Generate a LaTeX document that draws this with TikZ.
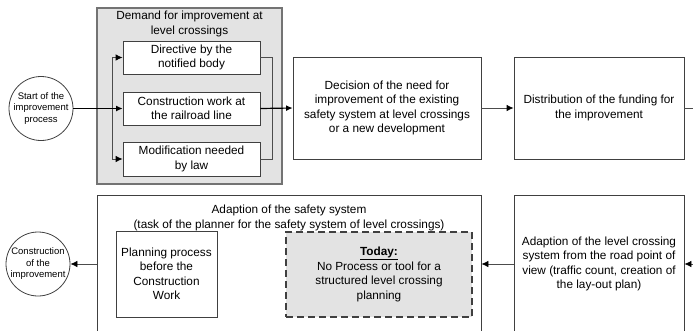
\documentclass[tikz,border=0pt]{standalone}
\usepackage{fontspec}
\setmainfont{Liberation Sans}
\usetikzlibrary{positioning,calc,arrows.meta}

\begin{document}
\begin{tikzpicture}[x=1pt,y=-1pt,
    box/.style={draw=black!75, fill=white, line width=0.8pt, align=center, inner sep=1pt, font=\fontsize{11.8}{14.5}\selectfont},
    group/.style={draw=black!55, fill=black!11, line width=1.4pt},
    todaybox/.style={box, fill=black!11, line width=1.6pt, dash pattern=on 7pt off 4pt},
    terminal/.style={circle, draw=black!75, fill=white, line width=0.8pt, minimum size=64pt, inner sep=0pt, align=center, font=\fontsize{9.5}{11.5}\selectfont},
    title/.style={align=center, inner sep=0pt, font=\fontsize{11.8}{14.5}\selectfont},
    flow/.style={draw=black!70, line width=0.8pt},
    mainflow/.style={draw=black, line width=1.2pt},
    arr/.style={flow, -{Latex[length=7pt,width=6.5pt,color=black]}},
    mainarr/.style={mainflow, -{Latex[length=6.5pt,width=6pt]}}]
    \useasboundingbox (0,0) rectangle (693,330);
    \clip (0,0) rectangle (693,330);
    % Demand for improvement
    \node[group, minimum width=185pt, minimum height=176pt] (demand) at (189.5,96) {};
    \node[title] (demandtitle) at (189.5,24) {Demand for improvement at\\level crossings};
    \node[box, minimum width=137pt, minimum height=33pt] (directive) at (191.5,57.5) {Directive by the\\notified body};
    \node[box, minimum width=137pt, minimum height=33pt] (railwork) at (191.5,108.5) {Construction work at\\the railroad line};
    \node[box, minimum width=137pt, minimum height=34pt] (lawchange) at (191.5,159) {Modification needed\\by law};
    % Start
    \node[terminal] (start) at (41,108.5) {Start of the\\improvement\\process};
    \coordinate (fork) at (112,108.5);
    \coordinate (join) at (272,108.5);
    \draw[arr] (fork) |- (directive.west);
    \draw[arr] (fork) |- (lawchange.west);
    \draw[flow] (directive.east) -| (join);
    \draw[flow] (lawchange.east) -| (join);
    \draw[mainflow] (start) -- (fork);
    \draw[mainarr] (fork) -- (railwork.west);
    % Top row
    \node[box, minimum width=188pt, minimum height=102pt] (decision) at (387,108) {Decision of the need for\\improvement of the existing\\safety system at level crossings\\or a new development};
    \node[box, minimum width=170pt, minimum height=102pt] (funding) at (599,108) {Distribution of the funding for\\the improvement};
    \draw[mainarr] (railwork.east) -- (decision.west);
    \draw[arr] (decision) -- (funding);
    \coordinate (outtop) at (700,108);
    \draw[flow] (funding) -- (outtop);
    % Bottom row
    \coordinate (inbottom) at (700,264);
    \node[box, minimum width=170pt, minimum height=138pt] (roadview) at (599,264) {Adaption of the level crossing\\system from the road point of\\view (traffic count, creation of\\the lay-out plan)};
    \node[box, minimum width=384pt, minimum height=138pt] (adaption) at (289,264) {};
    \node[title] (adaptiontitle) at (289,218) {Adaption of the safety system\\(task of the planner for the safety system of level crossings)};
    \node[box, minimum width=101pt, minimum height=86pt] (planning) at (166.5,274) {Planning process\\before the\\Construction\\Work};
    \node[todaybox, minimum width=186pt, minimum height=85pt] (today) at (379,274.5) {\underline{\textbf{Today:}}\\No Process or tool for a\\structured level crossing\\planning};
    \node[terminal] (construction) at (38,264) {Construction\\of the\\improvement};
    \draw[arr] (inbottom) -- (roadview);
    \draw[arr] (roadview) -- (adaption);
    \draw[arr] (adaption) -- (construction);
\end{tikzpicture}
\end{document}
